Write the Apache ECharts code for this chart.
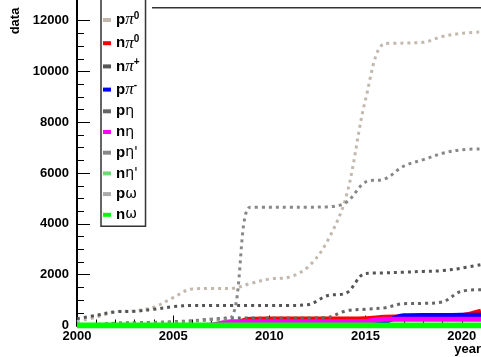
<!DOCTYPE html>
<html><head><meta charset="utf-8">
<script src="https://cdn.jsdelivr.net/npm/echarts@6/dist/echarts.min.js"></script>
<style>html,body{margin:0;padding:0;background:#fff}#c{width:481px;height:357px}</style>
</head><body><div id="c"></div>
<script>
// ---- data ----
const years = [2000,2001,2002,2003,2004,2005,2006,2007,2008,2009,2010,2011,2012,2013,2014,2015,2016,2017,2018,2019,2020,2021];
const pPi0     = [150,330,540,580,720,1100,1440,1460,1460,1650,1830,1900,2300,3300,5100,8900,11100,11120,11150,11380,11500,11560];
const nPi0     = [0,0,0,0,0,0,0,0,40,250,260,260,260,260,260,270,320,340,340,340,380,560];
const nPiPlus  = [270,400,540,560,640,740,790,790,790,790,790,790,820,1170,1280,2050,2070,2100,2130,2160,2260,2400];
const pPiMinus = [0,0,0,0,0,0,0,0,0,0,0,0,0,0,0,0,150,380,390,390,400,400];
const pEta     = [0,40,90,110,120,150,190,250,300,300,300,300,300,320,580,640,700,860,870,930,1350,1410];
const nEta     = [0,0,0,0,0,0,0,20,150,150,150,150,150,150,150,160,250,250,250,250,250,250];
const pEtaP    = [0,20,80,100,110,130,170,230,300,4660,4660,4660,4660,4670,4850,5650,5770,6280,6530,6780,6920,6950];
const nEtaP    = [0,0,0,0,0,0,0,0,0,0,0,0,0,0,0,0,0,0,0,0,0,0];
const pOmega   = [0,0,0,0,0,0,0,0,0,0,0,0,0,0,0,0,0,0,0,0,0,0];
const nOmega   = [0,0,0,0,0,0,0,0,0,0,0,0,0,0,0,0,0,0,0,0,0,0];
const seriesNames = ['pπ0','nπ0','nπ+','pπ-','pη','nη',"pη'","nη'",'pω','nω'];
const yMajorTicks = [0,2000,4000,6000,8000,10000,12000];
const yMinorTicks = [500,1000,1500,2500,3000,3500,4500,5000,5500,6500,7000,7500,8500,9000,9500,10500,11000,11500];

// ---- styling ----
const FONT = 'Liberation Sans, Arial, Helvetica, sans-serif';
const colors = ['#c2b8ad','#ff0000','#555555','#0000ff','#666666','#ff00ff','#888888','#70d870','#aaaaaa','#00ff00'];
const dotted = [true,false,true,false,true,false,true,false,true,false];
const widths = [3,5,3,5,3,5,3,5,3,6];
const values = [pPi0,nPi0,nPiPlus,pPiMinus,pEta,nEta,pEtaP,nEtaP,pOmega,nOmega];
const legendLabels = {
  'pπ0': '{b|p}{pi|π}{sup|0}',
  'nπ0': '{b|n}{pi|π}{sup|0}',
  'nπ+': '{b|n}{pi|π}{sup|+}',
  'pπ-': '{b|p}{pi|π}{sup|-}',
  'pη':  '{b|p}{gr|η}',
  'nη':  '{b|n}{gr|η}',
  "pη'": "{b|p}{gr|η'}",
  "nη'": "{b|n}{gr|η'}",
  'pω':  '{b|p}{gr|ω}',
  'nω':  '{b|n}{gr|ω}'
};

const chart = echarts.init(document.getElementById('c'), null, {renderer:'canvas'});
const series = seriesNames.map((n,i)=>({
  type:'line', name:n, silent:true, animation:false,
  data: years.map((y,k)=>[y, values[i][k]]),
  smooth:0.35, symbol:'none',
  itemStyle:{color:colors[i]},
  lineStyle:{color:colors[i], width:widths[i], type: dotted[i] ? [3,4] : 'solid', cap:'butt'},
  z: 2 + i
}));
const plain = v => String(v);

chart.setOption({
  animation:false,
  backgroundColor:'#fff',
  grid:{left:77, right:0, top:0, bottom:31.5, outerBoundsMode:'none'},
  xAxis:{
    type:'value', min:2000, max:2021, interval:5,
    axisLine:{show:true, lineStyle:{color:'#000', width:2}},
    axisTick:{show:true, inside:true, length:10, lineStyle:{color:'#000', width:1}},
    minorTick:{show:true, splitNumber:5, length:6, lineStyle:{color:'#000', width:1}},
    axisLabel:{margin:4, formatter:plain, fontFamily:FONT, fontWeight:'bold', fontSize:13, color:'#000', showMaxLabel:false},
    splitLine:{show:false},
    name:'year', nameLocation:'end', nameGap:0,
    nameTextStyle:{align:'right', verticalAlign:'top', padding:[17,0,0,0], fontFamily:FONT, fontWeight:'bold', fontSize:13, color:'#000'}
  },
  yAxis:[{
    type:'value', min:0, max:12815, interval:2000,
    axisLine:{show:true, lineStyle:{color:'#000', width:2}},
    axisTick:{show:true, inside:true, length:13, customValues:yMajorTicks, lineStyle:{color:'#000', width:1}},
    axisLabel:{customValues:yMajorTicks, formatter:plain, margin:8, fontFamily:FONT, fontWeight:'bold', fontSize:13, color:'#000'},
    splitLine:{show:false}
  },{
    type:'value', min:0, max:12815, position:'left', offset:0,
    axisLine:{show:false},
    axisTick:{show:true, inside:true, length:7, customValues:yMinorTicks, lineStyle:{color:'#000', width:1}},
    axisLabel:{show:false},
    splitLine:{show:false}
  }],
  legend:{
    orient:'vertical', left:101, top:-2, padding:[13,6,4,2],
    itemWidth:8, itemHeight:4, itemGap:5.7, icon:'rect',
    backgroundColor:'#fff', borderColor:'#333', borderWidth:1.5, borderRadius:0,
    selectedMode:false,
    data: seriesNames,
    formatter: n => legendLabels[n],
    textStyle:{
      color:'#000',
      rich:{
        b:{fontFamily:FONT, fontWeight:'bold', fontSize:15, lineHeight:18, color:'#000'},
        pi:{fontFamily:'Liberation Serif, DejaVu Serif, serif', fontStyle:'italic', fontSize:17, lineHeight:18, color:'#000'},
        gr:{fontFamily:'DejaVu Sans, sans-serif', fontSize:14, lineHeight:18, color:'#000'},
        sup:{fontFamily:FONT, fontWeight:'bold', fontSize:10, lineHeight:10, verticalAlign:'top', color:'#000'}
      }
    }
  },
  graphic:[
    {type:'line', silent:true, shape:{x1:152, y1:7.7, x2:481, y2:7.7}, style:{stroke:'#333', lineWidth:1.5}, z:100},
    {type:'text', silent:true, x:15, y:21, rotation:Math.PI/2,
     style:{text:'data', font:'bold 13px ' + FONT, fill:'#000', align:'center', verticalAlign:'middle'}, z:100}
  ],
  series: series
});
</script>
</body></html>
